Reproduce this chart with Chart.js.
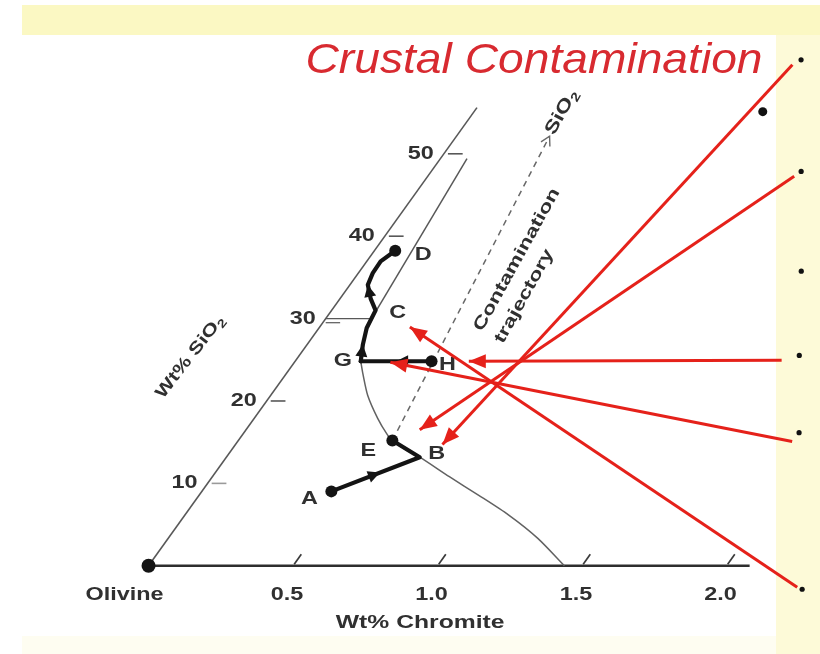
<!DOCTYPE html>
<html>
<head>
<meta charset="utf-8">
<script src="https://cdn.jsdelivr.net/npm/chart.js@4.4.1/dist/chart.umd.min.js"></script>
<style>
  html, body { margin: 0; padding: 0; background: #ffffff; }
  #wrap { width: 820px; height: 654px; }
</style>
</head>
<body>
<div id="wrap"><canvas id="diagram" width="820" height="654"></canvas></div>
<script>
// Olivine - chromite - silica projection: olivine sits at the origin,
// wt% chromite runs along the base and wt% SiO2 along the inclined edge.
// Every point below is [wt% chromite, wt% SiO2].

const chromiteTicks = [0.5, 1.0, 1.5, 2.0];
const silicaTicks = [10, 20, 30, 40, 50];
const chromiteAxisMax = 2.08;
const silicaAxisMax = 55.6;

const pointA = [0.448, 9.03];
const pointB = [0.669, 13.18];
const pointC = [0.152, 31.0];
const pointD = [0.072, 38.24];
const pointE = [0.533, 15.20];
const pointG = [0.227, 24.82];
const pointH = [0.472, 24.82];
const olivine = [0, 0];

// crystallisation paths
const pathABE = [pointA, pointB, pointE];
const pathHG = [pointH, pointG];
const pathGCD = [pointG, [0.193, 26.84], [0.165, 28.86], pointC, [0.106, 32.42],
                 [0.062, 34.09], [0.050, 35.51], [0.048, 36.94], pointD];

// olivine + chromite cotectic
const cotectic = [[0.227, 24.82], [0.266, 23.28], [0.336, 20.67], [0.426, 17.93],
                  [0.501, 15.91], [0.533, 15.20], [0.599, 14.13], [0.669, 13.18],
                  [0.820, 10.81], [0.968, 8.55], [1.119, 6.18], [1.279, 3.33], [1.439, 0]];

// upper boundary of the olivine field
const fieldEdge = [[0.155, 31.0], [0.092, 49.41]];

// contamination trajectory toward SiO2
const trajectory = [pointE, [0.322, 52.14]];

// pointer arrows from the slide bullets
const pointerFrom = [[0.985, 60.81], [1.268, 47.27], [1.681, 24.94], [1.919, 15.08], [2.298, -2.61]];
const pointerTo = [[0.716, 14.73], [0.601, 16.51], [0.601, 24.82], [0.332, 24.70], [0.312, 28.98]];
const bullets = [[1.003, 61.40], [1.280, 47.86], [1.528, 35.75], [1.730, 25.53], [1.921, 16.15], [2.320, -2.85]];
const slideDot = [0.999, 55.11];

const pointNames = ['A', 'B', 'C', 'D', 'E', 'G', 'H'];
const namedPoints = [pointA, pointB, pointC, pointD, pointE, pointG, pointH];
const dottedPoints = [pointA, pointE, pointH, pointD];

// ---------------------------------------------------------------------------
// the inclined SiO2 edge leans right by SKEW chromite units per wt% SiO2
const SKEW = 0.02044;
const project = ([c, s]) => ({ x: c + SKEW * s, y: s });

const RED = '#e5211a';
const INK = '#141414';
const GREY = '#585858';
const TEXT = '#303030';
const FONT = '"Liberation Sans", Arial, sans-serif';

function drawText(ctx, str, x, y, o = {}) {
  const size = o.size || 18;
  ctx.save();
  ctx.translate(x, y);
  if (o.angle) ctx.rotate(o.angle);
  ctx.scale(o.stretch || 1.3, 1);
  ctx.font = `${o.italic ? 'italic ' : ''}${o.weight || 'bold'} ${size}px ${FONT}`;
  ctx.fillStyle = o.color || TEXT;
  ctx.textAlign = o.align || 'center';
  ctx.textBaseline = o.baseline || 'middle';
  ctx.fillText(str, 0, 0);
  ctx.restore();
}

// text with a subscript tail, e.g. SiO + 2
function drawFormula(ctx, main, sub, x, y, o = {}) {
  const size = o.size || 18;
  const stretch = o.stretch || 1.3;
  const weight = o.weight || 'bold';
  ctx.save();
  ctx.translate(x, y);
  if (o.angle) ctx.rotate(o.angle);
  ctx.scale(stretch, 1);
  ctx.font = `${weight} ${size}px ${FONT}`;
  const w1 = ctx.measureText(main).width;
  ctx.font = `${weight} ${size * 0.68}px ${FONT}`;
  const w2 = ctx.measureText(sub).width;
  const x0 = o.align === 'left' ? 0 : -(w1 + w2) / 2;
  ctx.fillStyle = o.color || TEXT;
  ctx.textBaseline = 'middle';
  ctx.textAlign = 'left';
  ctx.font = `${weight} ${size}px ${FONT}`;
  ctx.fillText(main, x0, 0);
  ctx.font = `${weight} ${size * 0.68}px ${FONT}`;
  ctx.fillText(sub, x0 + w1, size * 0.3);
  ctx.restore();
}

function arrowHead(ctx, x1, y1, x2, y2, len, half, color, open) {
  const a = Math.atan2(y2 - y1, x2 - x1);
  const ux = Math.cos(a), uy = Math.sin(a);
  const bx = x2 - ux * len, by = y2 - uy * len;
  ctx.save();
  if (open) {
    ctx.strokeStyle = color;
    ctx.lineWidth = 1.4;
    ctx.beginPath();
    ctx.moveTo(bx - uy * half, by + ux * half);
    ctx.lineTo(x2, y2);
    ctx.lineTo(bx + uy * half, by - ux * half);
    ctx.stroke();
  } else {
    ctx.fillStyle = color;
    ctx.beginPath();
    ctx.moveTo(x2, y2);
    ctx.lineTo(bx - uy * half, by + ux * half);
    ctx.lineTo(bx + uy * half, by - ux * half);
    ctx.closePath();
    ctx.fill();
  }
  ctx.restore();
}

const diagramPlugin = {
  id: 'diagram',
  beforeDraw(chart) {
    const ctx = chart.ctx;
    const W = chart.width, H = chart.height;
    ctx.save();
    ctx.fillStyle = '#ffffff';
    ctx.fillRect(0, 0, W, H);
    // slide frame
    ctx.fillStyle = '#fbf8c3';
    ctx.fillRect(22, 5, W - 22, 30);
    ctx.fillStyle = '#fdfad8';
    ctx.fillRect(776, 35, W - 776, H - 35);
    ctx.fillStyle = '#fefdf1';
    ctx.fillRect(22, 636, 754, H - 636);
    ctx.restore();
  },
  beforeDatasetsDraw(chart) {
    const ctx = chart.ctx;
    const sx = chart.scales.x, sy = chart.scales.y;
    const P = (c, s) => [sx.getPixelForValue(c + SKEW * s), sy.getPixelForValue(s)];
    const line = (a, b, color, width) => {
      ctx.beginPath();
      ctx.moveTo(a[0], a[1]);
      ctx.lineTo(b[0], b[1]);
      ctx.strokeStyle = color;
      ctx.lineWidth = width;
      ctx.stroke();
    };
    ctx.save();
    ctx.lineCap = 'butt';

    // base (chromite) axis
    line(P(0, 0), P(chromiteAxisMax, 0), '#2e2e2e', 2.4);
    chromiteTicks.forEach(v => {
      line(P(v, 0.2), P(v, 1.4), '#3a3a3a', 1.7);
      const p = P(v, 0);
      drawText(ctx, v.toFixed(1), p[0] - 6, p[1] + 29, { size: 18 });
    });
    const o = P(0, 0);
    drawText(ctx, 'Olivine', o[0] - 24, o[1] + 29, { size: 18 });
    const t = P(0.94, 0);
    drawText(ctx, 'Wt% Chromite', t[0], t[1] + 57, { size: 19 });

    // inclined SiO2 axis
    line(P(0, 0), P(0, silicaAxisMax), GREY, 1.6);
    silicaTicks.forEach(v => {
      if (v === 30) {
        line(P(0, v), P(0.152, v), GREY, 1.4);
        line(P(0.01, v - 0.5), P(0.06, v - 0.5), GREY, 1.2);
      } else {
        line(P(0.014, v), P(0.065, v), v === 10 ? '#9a9a9a' : GREY, 1.6);
      }
      const p = P(0, v);
      drawText(ctx, String(v), p[0] - 10, p[1], { size: 18, align: 'right' });
    });
    const a = P(0, 25);
    drawFormula(ctx, 'Wt% SiO', '2', a[0] - 106, a[1] - 3, { size: 17, angle: -52 * Math.PI / 180 });

    // trajectory captions
    const rot = -61 * Math.PI / 180;
    drawText(ctx, 'Contamination', 478, 330, { size: 17, angle: rot, align: 'left', stretch: 1.35 });
    drawText(ctx, 'trajectory', 499, 342, { size: 17, angle: rot, align: 'left', stretch: 1.35 });
    const end = P(trajectory[1][0], trajectory[1][1]);
    drawFormula(ctx, 'SiO', '2', end[0] + 12, end[1] - 24, { size: 18, angle: rot });

    // slide title
    drawText(ctx, 'Crustal Contamination', 534, 61, {
      size: 42, italic: true, weight: 'normal', stretch: 1.1, color: '#d82a30'
    });

    // point letters
    const offsets = { A: [-22, 8], B: [17, -3], C: [22, 3], D: [28, 4], E: [-24, 10], G: [-18, 0], H: [16, 4] };
    pointNames.forEach((n, i) => {
      const p = P(namedPoints[i][0], namedPoints[i][1]);
      drawText(ctx, n, p[0] + offsets[n][0], p[1] + offsets[n][1], { size: 18 });
    });
    ctx.restore();
  },
  afterDatasetDraw(chart, args) {
    const ds = chart.data.datasets[args.index];
    const pts = args.meta.data;
    const ctx = chart.ctx;
    if (ds.arrows) {
      ds.arrows.forEach(({ seg, t }) => {
        const p0 = pts[seg], p1 = pts[seg + 1];
        const x = p0.x + (p1.x - p0.x) * t, y = p0.y + (p1.y - p0.y) * t;
        arrowHead(ctx, p0.x, p0.y, x, y, 12, 6, INK, false);
      });
    }
    if (ds.headAtEnd) {
      const p0 = pts[pts.length - 2], p1 = pts[pts.length - 1];
      arrowHead(ctx, p0.x, p0.y, p1.x, p1.y, ds.headAtEnd.len, ds.headAtEnd.half,
                ds.borderColor, ds.headAtEnd.open);
    }
  }
};

const datasets = [];

pointerFrom.forEach((from, i) => {
  datasets.push({
    data: [project(from), project(pointerTo[i])],
    showLine: true, borderColor: RED, borderWidth: 3, pointRadius: 0,
    headAtEnd: { len: 17, half: 7 }, order: 0
  });
});

datasets.push({
  data: bullets.map(project), showLine: false,
  pointRadius: 2.6, pointBackgroundColor: '#111', pointBorderWidth: 0, order: 1
});
datasets.push({
  data: [project(slideDot)], showLine: false,
  pointRadius: 4.5, pointBackgroundColor: '#111', pointBorderWidth: 0, order: 1
});

datasets.push({
  data: dottedPoints.map(project), showLine: false,
  pointRadius: 6, pointBackgroundColor: INK, pointBorderWidth: 0, order: 3
});
datasets.push({
  data: [project(olivine)], showLine: false,
  pointRadius: 7, pointBackgroundColor: INK, pointBorderWidth: 0, order: 3
});

[[pathABE, [{ seg: 0, t: 0.55 }]],
 [pathHG, [{ seg: 0, t: 0.5 }]],
 [pathGCD, [{ seg: 0, t: 1 }, { seg: 4, t: 1 }]]].forEach(([path, arrows]) => {
  datasets.push({
    data: path.map(project), showLine: true, borderColor: INK, borderWidth: 4.2,
    borderJoinStyle: 'round', borderCapStyle: 'round', pointRadius: 0,
    arrows, order: 4
  });
});

datasets.push({
  data: cotectic.map(project), showLine: true, borderColor: '#626262', borderWidth: 1.5,
  pointRadius: 0, tension: 0.25, order: 6
});
datasets.push({
  data: fieldEdge.map(project), showLine: true, borderColor: GREY, borderWidth: 1.5,
  pointRadius: 0, order: 6
});
datasets.push({
  data: trajectory.map(project), showLine: true, borderColor: '#686868', borderWidth: 1.5,
  borderDash: [6, 5], pointRadius: 0, headAtEnd: { len: 9, half: 5, open: true }, order: 6
});

// x is the projected chromite coordinate, y is wt% SiO2
new Chart(document.getElementById('diagram'), {
  type: 'scatter',
  data: { datasets },
  options: {
    responsive: false,
    animation: false,
    events: [],
    layout: { padding: 0 },
    plugins: { legend: { display: false }, tooltip: { enabled: false } },
    scales: {
      x: { type: 'linear', display: false, min: -0.4898, max: 2.2993 },
      y: { type: 'linear', display: false, min: -9.857, max: 67.815 }
    }
  },
  plugins: [diagramPlugin]
});
</script>
</body>
</html>
